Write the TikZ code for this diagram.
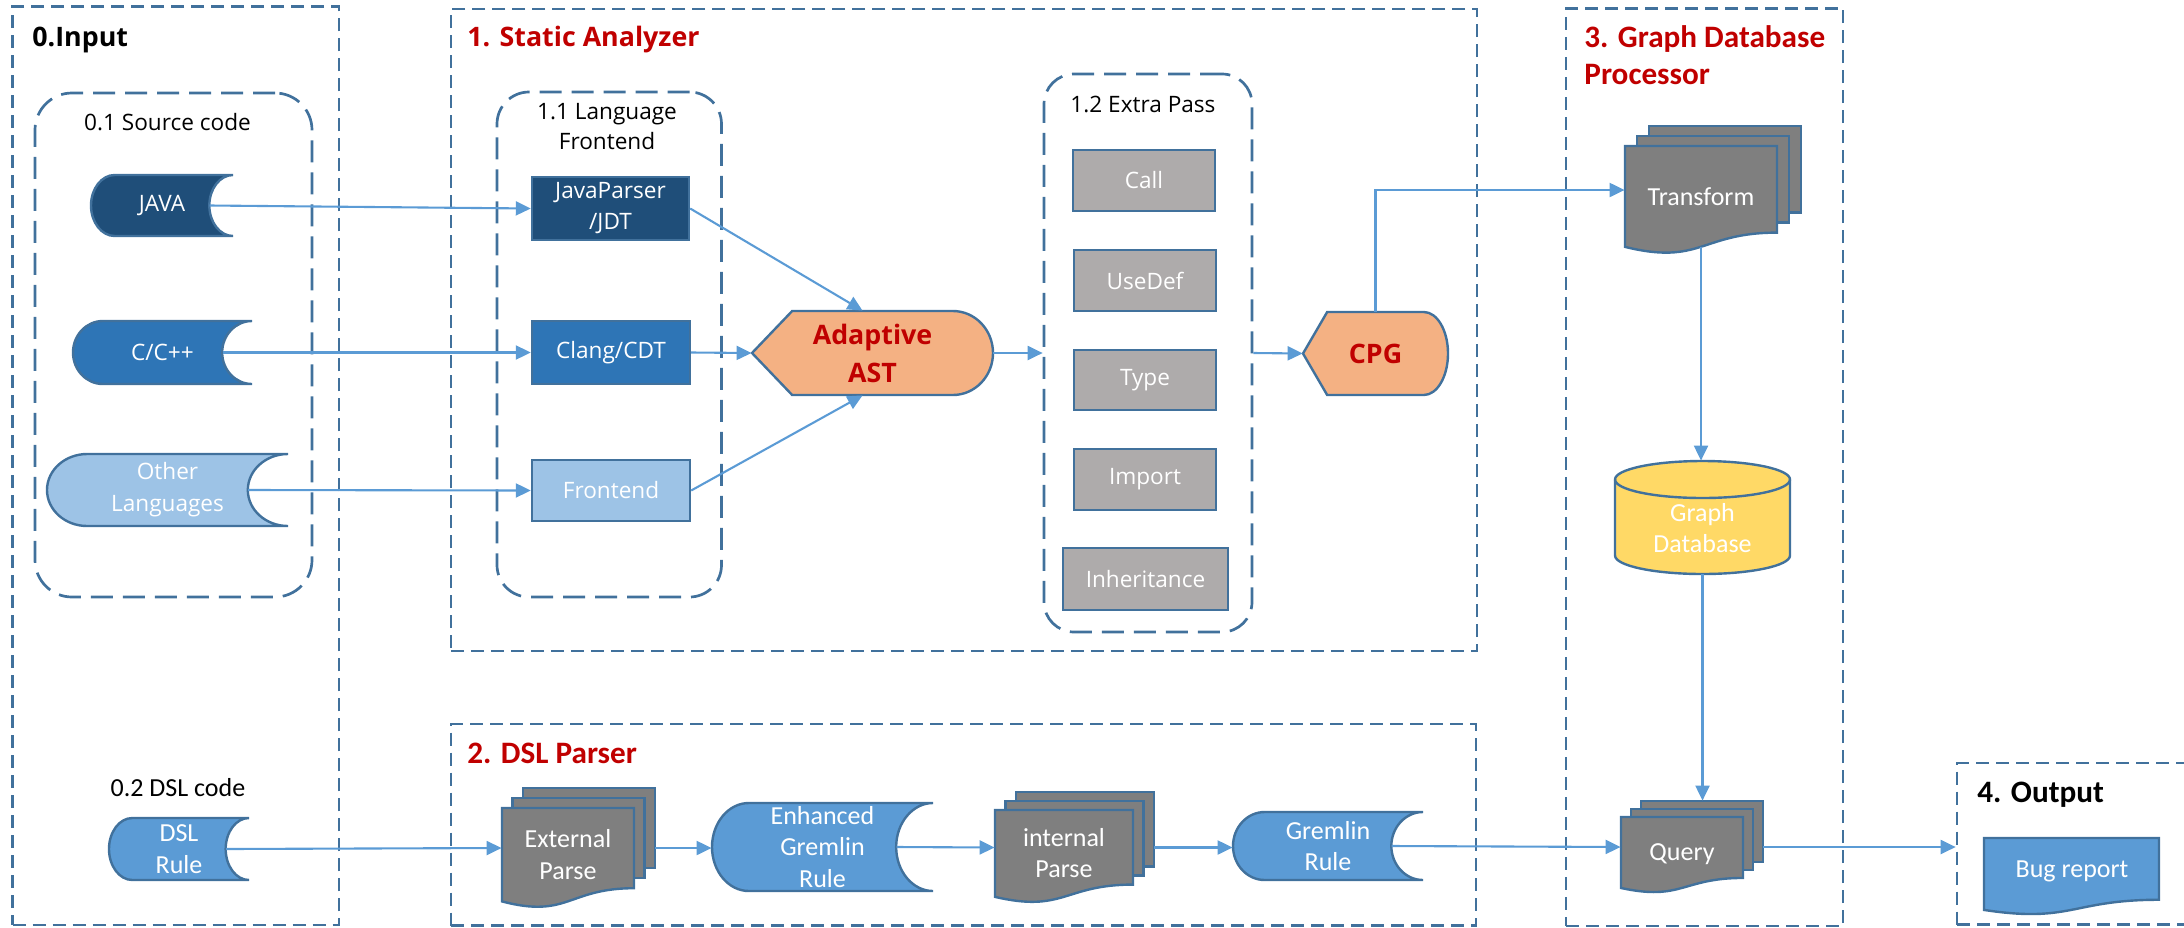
\documentclass[tikz,border=0pt]{standalone}
\usepackage{fontspec}
\setmainfont{Carlito}
\newfontfamily\osans{Open Sans}
\usetikzlibrary{arrows.meta,fit,calc}

\definecolor{frame}{HTML}{41719C}
\definecolor{wirecol}{HTML}{5B9BD5}
\definecolor{navy}{HTML}{1F4E79}
\definecolor{midblue}{HTML}{2E75B6}
\definecolor{paleblue}{HTML}{9DC3E6}
\definecolor{sky}{HTML}{5B9BD5}
\definecolor{stone}{HTML}{AEABAB}
\definecolor{slate}{HTML}{7F7F7F}
\definecolor{peach}{HTML}{F4B183}
\definecolor{gold}{HTML}{FFD966}
\definecolor{crimson}{HTML}{C00000}

\tikzset{
  stage/.style={draw=frame, line width=1.35pt, dash pattern=on 6.5pt off 3.5pt, inner sep=0pt},
  cluster/.style={draw=frame, line width=1.35pt, dash pattern=on 11pt off 5pt, rounded corners=16pt, inner sep=0pt},
  shapeline/.style={draw=frame, line width=1.2pt},
  hold/.style={inner sep=0pt},
  txt/.style={inner sep=0pt},
  osreg/.style={font=\osans\fontsize{11.3}{15.5}\selectfont},
  osbold/.style={font=\osans\bfseries\fontsize{13.4}{19}\selectfont},
  cal/.style={font=\fontsize{13}{15.75}\selectfont},
  calbold/.style={font=\bfseries\fontsize{15.6}{18.75}\selectfont},
  intext/.style={inner sep=0pt, text=white, align=center},
  procbox/.style={draw=frame, line width=1.2pt, inner sep=0pt},
  passbox/.style={procbox, fill=stone},
  wire/.style={draw=wirecol, line width=1.05pt, -{Triangle[length=7.5pt,width=7pt]}},
}

% data-store shape: rounded left end, concave right end
\newcommand\storeddata[5]{%
  \pgfmathsetmacro\sdw{(#4-#2)/6}%
  \pgfmathsetmacro\sdj{0.5523*\sdw}%
  \pgfmathsetmacro\sdm{(#3+#5)/2}%
  \pgfmathsetmacro\sdk{0.5523*(#5-#3)/2}%
  \draw[shapeline, fill=#1] (#4,#3) -- ({#2+\sdw},#3)
    .. controls ({#2+\sdw-\sdj},#3) and (#2,{\sdm-\sdk}) .. (#2,\sdm)
    .. controls (#2,{\sdm+\sdk}) and ({#2+\sdw-\sdj},#5) .. ({#2+\sdw},#5)
    -- (#4,#5)
    .. controls ({#4-\sdj},#5) and ({#4-\sdw},{\sdm+\sdk}) .. ({#4-\sdw},\sdm)
    .. controls ({#4-\sdw},{\sdm-\sdk}) and ({#4-\sdj},#3) .. (#4,#3) -- cycle;
}

% display shape: pointed left end, round right end
\newcommand\displayshape[4]{%
  \pgfmathsetmacro\dsw{(#3-#1)/6}%
  \pgfmathsetmacro\dsj{0.5523*\dsw}%
  \pgfmathsetmacro\dsm{(#2+#4)/2}%
  \pgfmathsetmacro\dsk{0.5523*(#4-#2)/2}%
  \draw[shapeline, fill=peach] (#1,\dsm) -- ({#1+\dsw},#2) -- ({#3-\dsw},#2)
    .. controls ({#3-\dsw+\dsj},#2) and (#3,{\dsm-\dsk}) .. (#3,\dsm)
    .. controls (#3,{\dsm+\dsk}) and ({#3-\dsw+\dsj},#4) .. ({#3-\dsw},#4)
    -- ({#1+\dsw},#4) -- cycle;
}

% document page with wavy lower edge
\newcommand\docpage[5]{%
  \pgfmathsetmacro\dpmid{(#2+#4)/2}%
  \pgfmathsetmacro\dpa{#3+0.802*#5}%
  \pgfmathsetmacro\dpb{#3+1.1075*#5}%
  \pgfmathsetmacro\dpc{#3+0.934*#5}%
  \draw[shapeline, fill=#1] (#2,#3) -- (#4,#3) -- (#4,\dpa)
    .. controls (\dpmid,\dpa) and (\dpmid,\dpb) .. (#2,\dpc) -- cycle;
}

% stack of three document pages
\newcommand\multidoc[6]{%
  \pgfmathsetmacro\mdb{#2+0.802*#4}%
  \draw[shapeline, fill=slate] ({#1+2*#5},{#2-2*#6}) rectangle ({#3+2*#5},{\mdb-2*#6});
  \draw[shapeline, fill=slate] ({#1+#5},{#2-#6}) rectangle ({#3+#5},{\mdb-#6});
  \docpage{slate}{#1}{#2}{#3}{#4}%
}

% database drum
\newcommand\drumshape[5]{%
  \pgfmathsetmacro\dxc{(#1+#3)/2}%
  \pgfmathsetmacro\dkx{0.5523*(#3-#1)/2}%
  \pgfmathsetmacro\dky{0.5523*#5}%
  \pgfmathsetmacro\dta{#2+#5}%
  \pgfmathsetmacro\dtb{#4-#5}%
  \pgfmathsetmacro\dtc{#2+2*#5}%
  \draw[shapeline, fill=gold] (#1,\dta) -- (#1,\dtb)
    .. controls (#1,{\dtb+\dky}) and ({\dxc-\dkx},#4) .. (\dxc,#4)
    .. controls ({\dxc+\dkx},#4) and (#3,{\dtb+\dky}) .. (#3,\dtb)
    -- (#3,\dta)
    .. controls (#3,{\dta-\dky}) and ({\dxc+\dkx},#2) .. (\dxc,#2)
    .. controls ({\dxc-\dkx},#2) and (#1,{\dta-\dky}) .. (#1,\dta) -- cycle;
  \draw[shapeline] (#1,\dta)
    .. controls (#1,{\dta+\dky}) and ({\dxc-\dkx},\dtc) .. (\dxc,\dtc)
    .. controls ({\dxc+\dkx},\dtc) and (#3,{\dta+\dky}) .. (#3,\dta);
}

\begin{document}
\begin{tikzpicture}[x=0.5pt, y=-0.5pt]
\useasboundingbox (0,0) rectangle (2184,927);

% ---- stage frames and groups
\node[stage, fit={(12.7,6.3) (339,925)}] (input) {};
\node[stage, fit={(451,9) (1477,651)}] (static) {};
\node[stage, fit={(451,724) (1476,925.5)}] (dsl) {};
\node[stage, fit={(1566,8.5) (1843,926)}] (gproc) {};
\node[stage, fit={(1957,763) (2192,924.5)}] (output) {};
\node[cluster, rounded corners=18.5pt, fit={(35,93) (312,597)}] (source) {};
\node[cluster, fit={(497,92) (721.5,597)}] (langfe) {};
\node[cluster, rounded corners=15pt, fit={(1044,74) (1252,632)}] (extra) {};

% ---- titles
\node[txt, osbold, anchor=base west] (input-t) at (32,46.5) {0.Input};
\node[txt, osreg, anchor=base] (source-t) at (167.5,130) {0.1 Source code};
\node[txt, osbold, text=crimson, anchor=base west] (static-t) at (467,46) {1. Static Analyzer};
\node[txt, align=center, font=\osans\fontsize{11.3}{15}\selectfont] (langfe-t) at (607,127) {1.1 Language\\Frontend};
\node[txt, osreg, anchor=base] (extra-t) at (1143,112.5) {1.2 Extra Pass};
\node[txt, calbold, text=crimson, align=left, anchor=west] (gproc-t) at (1584,55.4) {3. Graph Database\\Processor};
\node[txt, calbold, text=crimson, anchor=base west] (dsl-t) at (467,763) {2. DSL Parser};
\node[txt, cal, anchor=base] (dslcode-t) at (178,796) {0.2 DSL code};
\node[txt, calbold, anchor=base west] (output-t) at (1977,802) {4. Output};

% ---- source inputs
\storeddata{navy}{91}{175}{233}{236}
\node[hold, fit={(91,175) (233,236)}, label={[intext, osreg]center:JAVA}] (java) {};
\storeddata{midblue}{73}{321}{252}{384}
\node[hold, fit={(73,321) (252,384)}, label={[intext, osreg]center:C/C++}] (cpp) {};
\storeddata{paleblue}{47}{454}{288}{526}
\node[hold, fit={(47,454) (288,526)}, label={[intext, font=\osans\fontsize{11.3}{16}\selectfont]center:{Other\\Languages}}] (other) {};
\storeddata{sky}{109}{818}{249}{880}
\node[hold, fit={(109,818) (249,880)}, label={[intext, cal]center:{DSL\\Rule}}] (dslrule) {};

% ---- language frontends
\node[procbox, fill=navy, fit={(532,177) (689,240)}, label={[intext, osreg]center:{JavaParser\\/JDT}}] (jp) {};
\node[procbox, fill=midblue, fit={(532,321) (690,384)}, label={[intext, osreg]center:Clang/CDT}] (clang) {};
\node[procbox, fill=paleblue, fit={(532,460) (690,521)}, label={[intext, osreg]center:Frontend}] (fe) {};

% ---- AST and CPG
\displayshape{752}{311}{993}{395}
\node[hold, fit={(752,311) (993,395)}, label={[intext, osbold, text=crimson]center:{Adaptive\\AST}}] (ast) {};
\displayshape{1303}{312}{1448}{395}
\node[hold, fit={(1303,312) (1448,395)}, label={[intext, osbold, text=crimson]center:CPG}] (cpg) {};

% ---- extra passes
\node[passbox, fit={(1073,150) (1215,211)}, label={[intext, osreg]center:Call}] (call) {};
\node[passbox, fit={(1074,250) (1216,311)}, label={[intext, osreg]center:UseDef}] (usedef) {};
\node[passbox, fit={(1074,350) (1216,410)}, label={[intext, osreg]center:Type}] (type) {};
\node[passbox, fit={(1074,449) (1216,510)}, label={[intext, osreg]center:Import}] (import) {};
\node[passbox, fit={(1063,548) (1228,610)}, label={[intext, osreg]center:Inheritance}] (inherit) {};

% ---- graph database processor
\multidoc{1625}{146}{1777}{108}{12}{10}
\node[hold, fit={(1625,126) (1801,254)}] (transform) {};
\node[txt, cal, text=white, anchor=base] (transform-t) at (1701,205.6) {Transform};
\coordinate (transform-b) at (1701,246.8);

\drumshape{1615}{461}{1790}{574}{18.5}
\node[hold, fit={(1615,461) (1790,574)}] (gdb) {};
\node[txt, cal, text=white, align=center] (gdb-t) at (1702.5,528) {Graph\\Database};

\multidoc{1621}{817}{1743}{76}{10}{8}
\node[hold, fit={(1621,801) (1763,893)}] (query) {};
\node[txt, cal, text=white, anchor=base] (query-t) at (1682,860) {Query};

% ---- DSL parser
\multidoc{502}{808}{634}{100}{10.5}{10}
\node[hold, fit={(502,788) (655,908)}] (external) {};
\node[txt, cal, text=white, align=center] (external-t) at (568,854.4) {External\\Parse};

\storeddata{sky}{712}{803}{933}{891}
\node[hold, fit={(712,803) (933,891)}, label={[intext, cal]center:{Enhanced\\Gremlin\\Rule}}] (egr) {};

\multidoc{995}{810}{1133}{93}{10.5}{9}
\node[hold, fit={(995,792) (1154,903)}] (internal) {};
\node[txt, cal, text=white, align=center] (internal-t) at (1064,852.9) {internal\\Parse};

\storeddata{sky}{1233}{812}{1423}{880}
\node[hold, fit={(1233,812) (1423,880)}, label={[intext, cal]center:{Gremlin\\Rule}}] (gremlin) {};

% ---- output
\docpage{sky}{1984}{838}{2159}{77}
\node[txt, cal, text=white, anchor=base] (bug) at (2072,877.7) {Bug report};

% ---- connectors
\draw[wire] ($(java.east)+(-23.7,0)$) -- (jp.west);
\draw[wire] ($(cpp.east)+(-29.8,0)$) -- (clang.west);
\draw[wire] ($(other.east)+(-40.2,0)$) -- (fe.west);
\draw[wire] (jp.east) -- ($(ast.north)+(-10,0)$);
\draw[wire] (clang.east) -- (ast.west);
\draw[wire] (fe.east) -- ($(ast.south)+(-10,0)$);
\draw[wire] (ast.east) -- (extra.west);
\draw[wire] (extra.east) -- (cpg.west);
\draw[wire] (cpg.north) |- (transform.west);
\draw[wire] (transform-b) -- (transform-b |- gdb.north);
\draw[wire] (gdb.south) -- (gdb.south |- query.north);
\draw[wire] ($(dslrule.east)+(-23.3,0)$) -- (external.west);
\draw[wire] (external.east) -- (external.east -| egr.west);
\draw[wire] ($(egr.east)+(-36.8,0)$) -- (internal.west);
\draw[wire] (internal.east) -- (internal.east -| gremlin.west);
\draw[wire] ($(gremlin.east)+(-31.7,0)$) -- (query.west);
\draw[wire] (query.east) -- (query.east -| output.west);
\end{tikzpicture}
\end{document}
